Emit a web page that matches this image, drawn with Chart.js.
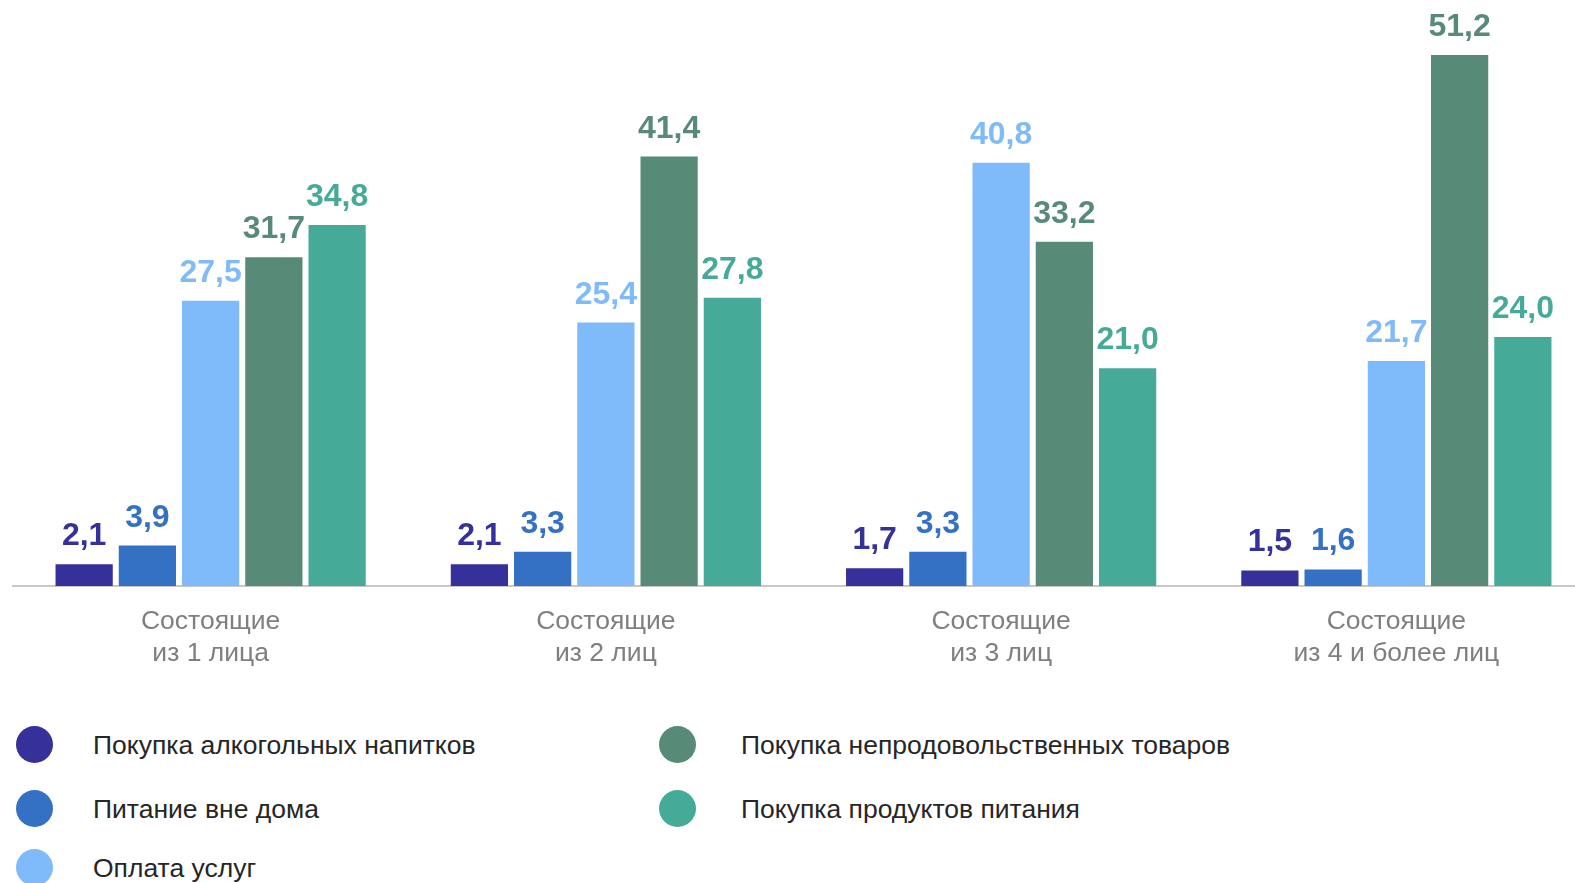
<!DOCTYPE html>
<html lang="ru">
<head>
<meta charset="utf-8">
<script src="https://cdn.jsdelivr.net/npm/chart.js@4/dist/chart.umd.min.js"></script>
<style>
  html, body { margin: 0; padding: 0; background: #fff; width: 1575px; height: 883px; overflow: hidden; }
  #wrap { position: absolute; left: 0; top: 0; width: 1594px; height: 700px; }
  #legend { position: absolute; left: 0; top: 0; font-family: "Liberation Sans", Arial, sans-serif; font-size: 26.5px; color: #262626; }
  .dot { position: absolute; width: 37px; height: 37px; border-radius: 50%; }
  .txt { position: absolute; line-height: 30px; white-space: nowrap; }
</style>
</head>
<body>
<div id="wrap"><canvas id="barChart"></canvas></div>
<div id="legend"></div>
<script>
// Домохозяйства
const groups = [['Состоящие', 'из 1 лица'], ['Состоящие', 'из 2 лиц'], ['Состоящие', 'из 3 лиц'], ['Состоящие', 'из 4 и более лиц']];

// Структура расходов, %
const alcohol = [2.1, 2.1, 1.7, 1.5];
const eatingOut = [3.9, 3.3, 3.3, 1.6];
const services = [27.5, 25.4, 40.8, 21.7];
const nonFood = [31.7, 41.4, 33.2, 51.2];
const food = [34.8, 27.8, 21.0, 24.0];

const seriesNames = ['Покупка алкогольных напитков', 'Питание вне дома', 'Оплата услуг', 'Покупка непродовольственных товаров', 'Покупка продуктов питания'];
const colors = ['#36309a', '#3470c4', '#7fbafa', '#578b78', '#46aa98'];
const seriesData = [alcohol, eatingOut, services, nonFood, food];

const fontFamily = '"Liberation Sans", Arial, sans-serif';

// подписи значений над столбцами
const valueLabels = {
  id: 'valueLabels',
  afterDatasetsDraw(chart) {
    const ctx = chart.ctx;
    ctx.save();
    ctx.font = 'bold 32px ' + fontFamily;
    ctx.textAlign = 'center';
    ctx.textBaseline = 'alphabetic';
    chart.data.datasets.forEach((ds, i) => {
      const meta = chart.getDatasetMeta(i);
      ctx.fillStyle = ds.backgroundColor;
      meta.data.forEach((bar, j) => {
        ctx.fillText(ds.data[j].toFixed(1).replace('.', ','), bar.x, bar.y - 19);
      });
    });
    ctx.restore();
  }
};

const chart = new Chart(document.getElementById('barChart').getContext('2d'), {
  type: 'bar',
  data: {
    labels: groups,
    datasets: seriesData.map((d, i) => ({
      label: seriesNames[i],
      data: d,
      backgroundColor: colors[i],
      categoryPercentage: 0.8,
      barPercentage: 0.905
    }))
  },
  options: {
    responsive: true,
    maintainAspectRatio: false,
    animation: false,
    layout: { padding: { left: 13, right: 0, top: 0, bottom: 0 } },
    plugins: { legend: { display: false }, tooltip: { enabled: false } },
    scales: {
      x: {
        grid: { display: false, drawTicks: false },
        border: { color: '#c8c8c8', width: 2 },
        ticks: { color: '#7f7f7f', font: { family: fontFamily, size: 26.5, lineHeight: 1.21 }, padding: 20, maxRotation: 0 },
        afterFit(scale) { scale.height = 114; }
      },
      y: {
        display: false,
        min: 0,
        max: 56.5
      }
    }
  },
  plugins: [valueLabels]
});

// легенда в две колонки
const legendPos = [[16, 93, 726], [16, 93, 790], [16, 93, 849], [659, 741, 726], [659, 741, 790]];
const legend = document.getElementById('legend');
seriesNames.forEach((name, i) => {
  const dot = document.createElement('div');
  dot.className = 'dot';
  dot.style.background = colors[i];
  dot.style.left = legendPos[i][0] + 'px';
  dot.style.top = legendPos[i][2] + 'px';
  const txt = document.createElement('div');
  txt.className = 'txt';
  txt.textContent = name;
  txt.style.left = legendPos[i][1] + 'px';
  txt.style.top = (legendPos[i][2] + 4) + 'px';
  legend.appendChild(dot);
  legend.appendChild(txt);
});
</script>
</body>
</html>
